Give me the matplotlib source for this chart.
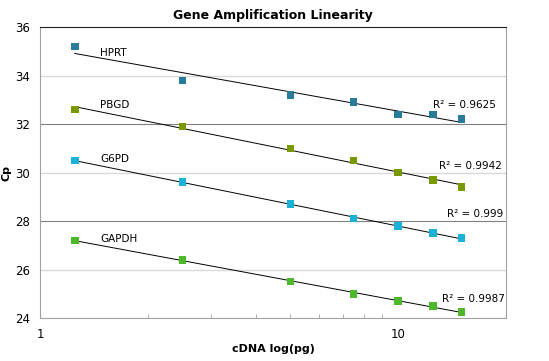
import numpy as np
import matplotlib.pyplot as plt
from matplotlib.ticker import FixedLocator, NullFormatter, FixedFormatter

# dane
cdna_pg = [1.25, 2.5, 5, 7.5, 10, 12.5, 15]
hprt = [35.2, 33.8, 33.2, 32.9, 32.4, 32.4, 32.2]
pbgd = [32.6, 31.9, 31.0, 30.5, 30.0, 29.7, 29.4]
g6pd = [30.5, 29.6, 28.7, 28.1, 27.8, 27.5, 27.3]
gapdh = [27.2, 26.4, 25.5, 25.0, 24.7, 24.5, 24.25]

geny = ["HPRT", "PBGD", "G6PD", "GAPDH"]
serie = [hprt, pbgd, g6pd, gapdh]
r2_teksty = ["R² = 0.9625", "R² = 0.9942", "R² = 0.999", "R² = 0.9987"]

kolory = ["#2a7b9b", "#789a00", "#1ab2d6", "#4db82a"]
# pozycje etykiet (x, y)
poz_nazw = [(1.47, 34.93), (1.47, 32.78), (1.47, 30.56), (1.47, 27.26)]
poz_r2 = [(18.7, 32.78), (19.5, 30.27), (19.6, 28.29), (19.9, 24.78)]

fig = plt.figure(figsize=(5.49, 3.61), dpi=100)
ax = fig.add_axes([0.0729, 0.119, 0.849, 0.806])

x = np.array(cdna_pg)
for nazwa, y, kolor, pn, pr, r2 in zip(geny, serie, kolory, poz_nazw, poz_r2, r2_teksty):
    # linia trendu logarytmiczna (y = a ln x + b)
    a, b = np.polyfit(np.log(x), y, 1)
    ax.plot(x, a * np.log(x) + b, color="black", lw=0.7, zorder=3)
    ax.scatter(x, y, marker="s", s=30, color=kolor, edgecolors="none", zorder=4)
    ax.text(pn[0], pn[1], nazwa, fontsize=7.5, ha="left", va="center")
    ax.text(pr[0], pr[1], r2, fontsize=7.5, ha="right", va="center")

ax.set_xscale("log")
ax.set_xlim(1, 20)
ax.set_ylim(24, 36)
ax.set_yticks([24, 26, 28, 30, 32, 34, 36])
ax.xaxis.set_major_locator(FixedLocator([1, 10]))
ax.xaxis.set_major_formatter(FixedFormatter(["1", "10"]))
ax.xaxis.set_minor_locator(FixedLocator([2, 3, 4, 5, 6, 7, 8, 9]))
ax.xaxis.set_minor_formatter(NullFormatter())
ax.tick_params(axis="x", which="major", length=0, labelsize=8.5, pad=7)
ax.tick_params(axis="x", which="minor", length=3, direction="in", color="#a0a0a0")
ax.tick_params(axis="y", length=0, labelsize=8.5, pad=7)

# linie siatki
for yy in [26, 30, 34]:
    ax.axhline(yy, color="#d9d9d9", lw=1, zorder=1)
for yy in [28, 32]:
    ax.axhline(yy, color="#808080", lw=0.8, zorder=1)

for s in ["left", "right", "bottom"]:
    ax.spines[s].set_color("#a0a0a0")
ax.spines["top"].set_color("#202020")

ax.set_title("Gene Amplification Linearity", fontsize=9, fontweight="bold", pad=6)
ax.set_xlabel("cDNA log(pg)", fontsize=8, fontweight="bold")
ax.set_ylabel("Cp", fontsize=8, fontweight="bold")
ax.yaxis.set_label_coords(-0.062, 0.5)
ax.xaxis.set_label_coords(0.5, -0.09)

fig.savefig("out.png", dpi=100)
